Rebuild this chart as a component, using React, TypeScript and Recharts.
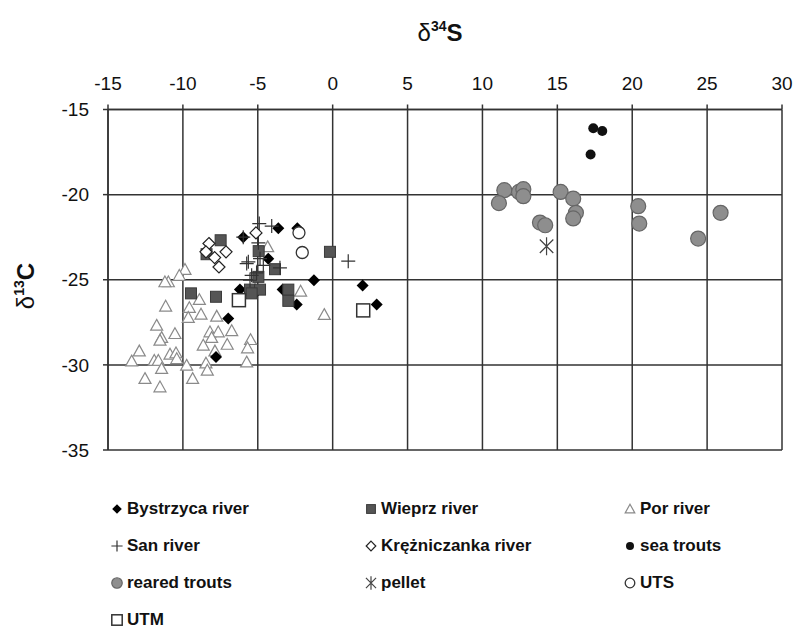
import React from 'react';
import { ScatterChart, Scatter, XAxis, YAxis, CartesianGrid, Legend } from 'recharts';

// δ34S (x) vs δ13C (y)
const bystrzyca = [
  { x: -5.97, y: -22.5 }, { x: -3.63, y: -21.97 }, { x: -2.36, y: -21.97 }, { x: -4.3, y: -23.76 },
  { x: -1.25, y: -25.03 }, { x: 2.0, y: -25.34 }, { x: 2.94, y: -26.46 }, { x: -2.4, y: -26.46 },
  { x: -6.19, y: -25.58 }, { x: -5.03, y: -25.66 }, { x: -6.97, y: -27.27 }, { x: -7.79, y: -29.54 },
  { x: -3.34, y: -25.58 },
];
const wieprz = [
  { x: -7.48, y: -22.68 }, { x: -8.42, y: -23.5 }, { x: -4.94, y: -23.32 }, { x: -0.18, y: -23.36 },
  { x: -3.85, y: -24.38 }, { x: -4.96, y: -24.83 }, { x: -5.52, y: -25.58 }, { x: -4.85, y: -25.58 },
  { x: -5.41, y: -25.8 }, { x: -2.96, y: -25.58 }, { x: -2.96, y: -26.24 }, { x: -9.46, y: -25.8 },
  { x: -7.79, y: -26.0 },
];
const por = [
  { x: -9.86, y: -24.4 }, { x: -10.24, y: -24.75 }, { x: -10.97, y: -25.13 }, { x: -11.2, y: -25.13 },
  { x: -8.9, y: -26.17 }, { x: -11.15, y: -26.56 }, { x: -9.57, y: -26.64 }, { x: -9.64, y: -27.22 },
  { x: -8.79, y: -27.03 }, { x: -7.74, y: -27.15 }, { x: -11.75, y: -27.68 }, { x: -10.53, y: -28.17 },
  { x: -11.42, y: -28.4 }, { x: -11.53, y: -28.56 }, { x: -8.19, y: -28.07 }, { x: -7.64, y: -28.07 },
  { x: -6.74, y: -28.0 }, { x: -8.08, y: -28.4 }, { x: -8.64, y: -28.85 }, { x: -7.04, y: -28.8 },
  { x: -5.48, y: -28.52 }, { x: -5.68, y: -29.01 }, { x: -7.86, y: -29.19 }, { x: -5.74, y: -29.84 },
  { x: -12.91, y: -29.19 }, { x: -13.42, y: -29.78 }, { x: -11.91, y: -29.74 }, { x: -11.64, y: -29.74 },
  { x: -10.86, y: -29.38 }, { x: -10.46, y: -29.3 }, { x: -10.41, y: -29.64 }, { x: -11.42, y: -30.22 },
  { x: -9.75, y: -30.03 }, { x: -8.46, y: -29.9 }, { x: -8.37, y: -30.32 }, { x: -9.35, y: -30.81 },
  { x: -12.53, y: -30.81 }, { x: -11.53, y: -31.3 }, { x: -4.34, y: -23.07 }, { x: -2.14, y: -25.68 },
  { x: -0.56, y: -27.05 },
];
const san = [
  { x: -4.9, y: -21.7 }, { x: -4.07, y: -21.85 }, { x: -5.97, y: -22.5 }, { x: -4.96, y: -22.83 },
  { x: -5.63, y: -23.95 }, { x: -4.85, y: -23.76 }, { x: -4.63, y: -24.15 }, { x: -3.52, y: -24.3 },
  { x: -5.41, y: -24.74 }, { x: -5.08, y: -24.6 }, { x: 1.04, y: -23.91 }, { x: -5.52, y: -25.03 },
  { x: -5.74, y: -24.05 },
];
const krezniczanka = [
  { x: -8.26, y: -22.87 }, { x: -7.12, y: -23.36 }, { x: -7.88, y: -23.7 }, { x: -7.59, y: -24.25 },
  { x: -5.12, y: -22.25 }, { x: -8.46, y: -23.36 },
];
const seaTrouts = [{ x: 17.4, y: -16.1 }, { x: 18.0, y: -16.26 }, { x: 17.22, y: -17.64 }];
const rearedTrouts = [
  { x: 11.46, y: -19.74 }, { x: 11.1, y: -20.5 }, { x: 12.44, y: -19.84 }, { x: 12.73, y: -19.68 },
  { x: 12.73, y: -20.09 }, { x: 15.22, y: -19.84 }, { x: 16.06, y: -20.23 }, { x: 16.24, y: -21.07 },
  { x: 16.06, y: -21.4 }, { x: 13.84, y: -21.64 }, { x: 14.19, y: -21.8 }, { x: 20.4, y: -20.68 },
  { x: 20.47, y: -21.7 }, { x: 25.9, y: -21.07 }, { x: 24.4, y: -22.58 },
];
const pellet = [{ x: 14.28, y: -23.03 }];
const uts = [{ x: -2.25, y: -22.24 }, { x: -2.03, y: -23.4 }];
const utm = [{ x: -6.26, y: -26.2 }, { x: 2.04, y: -26.8 }];

const xTicks = [-15, -10, -5, 0, 5, 10, 15, 20, 25, 30];
const yTicks = [-35, -30, -25, -20, -15];

type Kind = 'diamond' | 'square' | 'triangle' | 'plus' | 'openDiamond' | 'dot' | 'grayDot' | 'star' | 'ring' | 'openSquare';

const series: { name: string; data: { x: number; y: number }[]; kind: Kind }[] = [
  { name: 'Por river', data: por, kind: 'triangle' },
  { name: 'Bystrzyca river', data: bystrzyca, kind: 'diamond' },
  { name: 'Wieprz river', data: wieprz, kind: 'square' },
  { name: 'San river', data: san, kind: 'plus' },
  { name: 'Krężniczanka river', data: krezniczanka, kind: 'openDiamond' },
  { name: 'sea trouts', data: seaTrouts, kind: 'dot' },
  { name: 'reared trouts', data: rearedTrouts, kind: 'grayDot' },
  { name: 'pellet', data: pellet, kind: 'star' },
  { name: 'UTS', data: uts, kind: 'ring' },
  { name: 'UTM', data: utm, kind: 'openSquare' },
];

const legendOrder = [
  'Bystrzyca river', 'Wieprz river', 'Por river',
  'San river', 'Krężniczanka river', 'sea trouts',
  'reared trouts', 'pellet', 'UTS', 'UTM',
];

const marker = (kind: Kind, cx: number, cy: number, s = 1) => {
  switch (kind) {
    case 'diamond': {
      const r = 6 * s;
      return <path d={`M${cx},${cy - r}L${cx + r},${cy}L${cx},${cy + r}L${cx - r},${cy}Z`} fill="#000" />;
    }
    case 'openDiamond': {
      const r = 6 * s;
      return <path d={`M${cx},${cy - r}L${cx + r},${cy}L${cx},${cy + r}L${cx - r},${cy}Z`} fill="#fff" stroke="#222" strokeWidth={1.2} />;
    }
    case 'square': {
      const r = 5.5 * s;
      return <rect x={cx - r} y={cy - r} width={2 * r} height={2 * r} fill="#555" stroke="#3a3a3a" strokeWidth={1} />;
    }
    case 'openSquare': {
      const r = 6.5 * s;
      return <rect x={cx - r} y={cy - r} width={2 * r} height={2 * r} fill="#fff" stroke="#333" strokeWidth={1.5} />;
    }
    case 'triangle': {
      const r = 6 * s;
      return <path d={`M${cx},${cy - r}L${cx + r},${cy + r * 0.8}L${cx - r},${cy + r * 0.8}Z`} fill="#fff" stroke="#8a8a8a" strokeWidth={1.2} />;
    }
    case 'plus': {
      const r = 7 * s;
      return <path d={`M${cx - r},${cy}H${cx + r}M${cx},${cy - r}V${cy + r}`} stroke="#333" strokeWidth={1.2} fill="none" />;
    }
    case 'dot':
      return <circle cx={cx} cy={cy} r={5 * s} fill="#111" />;
    case 'grayDot':
      return <circle cx={cx} cy={cy} r={7.5 * s} fill="#8e8e8e" stroke="#666" strokeWidth={1.2} />;
    case 'ring':
      return <circle cx={cx} cy={cy} r={6 * s} fill="#fff" stroke="#333" strokeWidth={1.3} />;
    case 'star': {
      const r = 9 * s;
      const d = r * 0.75;
      return (
        <path
          d={`M${cx},${cy - r}V${cy + r}M${cx - d},${cy - d}L${cx + d},${cy + d}M${cx + d},${cy - d}L${cx - d},${cy + d}`}
          stroke="#444" strokeWidth={1.2} fill="none"
        />
      );
    }
  }
  return null;
};

const tickFont = { fontFamily: '"Liberation Sans Narrow", "Arial Narrow", "Liberation Sans", Arial, sans-serif', fontSize: 19, fill: '#111' };

const renderLegend = () => (
  <div style={{ display: 'grid', gridTemplateColumns: '254px 259px 170px', paddingLeft: 110, width: 798, boxSizing: 'border-box' }}>
    {legendOrder.map((name) => {
      const s = series.find((e) => e.name === name)!;
      return (
        <div key={name} style={{ height: 37, display: 'flex', alignItems: 'center', whiteSpace: 'nowrap' }}>
          <svg width={14} height={14} style={{ marginRight: 3, flexShrink: 0 }}>
            {marker(s.kind, 7, 7, s.kind === 'grayDot' ? 0.7 : s.kind === 'star' ? 0.75 : 0.8)}
          </svg>
          <span style={{ fontFamily: '"Liberation Sans", Arial, sans-serif', fontWeight: 'bold', fontSize: 17, color: '#111' }}>
            {name}
          </span>
        </div>
      );
    })}
  </div>
);

export default function App() {
  return (
    <div style={{ position: 'absolute', left: 0, top: 0, width: 798, height: 633, background: '#fff' }}>
      <ScatterChart width={798} height={633} margin={{ top: 79.5, right: 16, bottom: 183, left: 58 }}>
        <CartesianGrid stroke="#333" strokeWidth={1.5} horizontalValues={yTicks} verticalValues={xTicks} />
        <XAxis
          type="number" dataKey="x" orientation="top" domain={[-15, 30]} ticks={xTicks} height={30}
          axisLine={{ stroke: '#333', strokeWidth: 1.5 }} tickLine={{ stroke: '#333', strokeWidth: 1.5 }}
          tickSize={5} tickMargin={15} tick={tickFont} interval={0} allowDataOverflow
        />
        <YAxis
          type="number" dataKey="y" domain={[-35, -15]} ticks={yTicks} width={50}
          axisLine={{ stroke: '#333', strokeWidth: 1.5 }} tickLine={{ stroke: '#333', strokeWidth: 1.5 }}
          tickSize={5} tickMargin={14} tick={tickFont} interval={0} allowDataOverflow
        />
        {series.map((s) => (
          <Scatter
            key={s.name}
            name={s.name}
            data={s.data}
            isAnimationActive={false}
            shape={(p: any) => marker(s.kind, p.cx, p.cy)}
          />
        ))}
        <Legend
          layout="horizontal" verticalAlign="middle" align="center"
          wrapperStyle={{ top: 490, left: 0, width: 798 }}
          content={renderLegend}
        />
        <text x={440} y={41} textAnchor="middle" fontFamily='"Liberation Sans", Arial, sans-serif' fontSize={24} fill="#111">
          <tspan fontWeight="normal">δ</tspan>
          <tspan fontSize={14} dy={-10} fontWeight="bold">34</tspan>
          <tspan dy={10} fontWeight="bold">S</tspan>
        </text>
        <text
          x={0} y={0} transform="translate(34 286) rotate(-90)" textAnchor="middle"
          fontFamily='"Liberation Sans", Arial, sans-serif' fontSize={24} fill="#111"
        >
          <tspan fontWeight="normal">δ</tspan>
          <tspan fontSize={14} dy={-10} fontWeight="bold">13</tspan>
          <tspan dy={10} fontWeight="bold">C</tspan>
        </text>
      </ScatterChart>
    </div>
  );
}
